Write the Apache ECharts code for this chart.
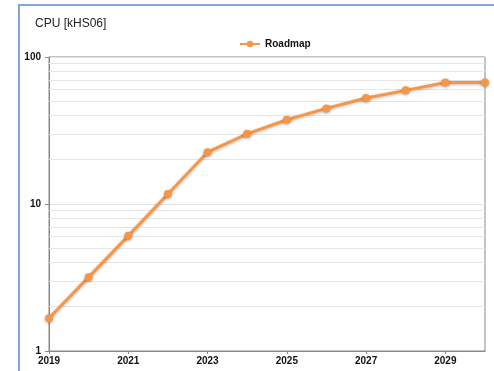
<!DOCTYPE html>
<html>
<head>
<meta charset="utf-8">
<script src="https://cdn.jsdelivr.net/npm/echarts@6/dist/echarts.min.js"></script>
<style>
  html, body { margin: 0; padding: 0; background: #fff; overflow: hidden; }
  #chart { position: absolute; left: 0; top: 0; width: 494px; height: 371px; }
</style>
</head>
<body>
<div id="chart"></div>
<script>
// Yearly CPU capacity roadmap (kHS06), log scale
const years = ['2019','2020','2021','2022','2023','2024','2025','2026','2027','2028','2029','2030'];
const roadmap = [1.67, 3.18, 6.07, 11.7, 22.5, 30.0, 37.4, 44.7, 52.6, 59.3, 67.1, 67.1];
// Minor log grid values between the decades
const minorGrid = [2,3,4,5,6,7,8,9,20,30,40,50,60,70,80,90];

const font = '"Liberation Sans", Arial, sans-serif';
const orange = '#f79646';
const frameBlue = '#7fa7dc';

const chart = echarts.init(document.getElementById('chart'));
chart.setOption({
  animation: false,
  graphic: [
    { type: 'line', shape: { x1: 19, y1: 5, x2: 494, y2: 5 }, style: { stroke: frameBlue, lineWidth: 2 } },
    { type: 'line', shape: { x1: 19, y1: 4, x2: 19, y2: 371 }, style: { stroke: frameBlue, lineWidth: 2 } }
  ],
  title: {
    text: 'CPU [kHS06]', left: 30, top: 13,
    textStyle: { fontFamily: font, fontSize: 12, fontWeight: 'normal', color: '#222' }
  },
  legend: {
    top: 34, left: 234,
    itemWidth: 20, itemHeight: 8,
    textStyle: { fontFamily: font, fontSize: 10, fontWeight: 'bold', color: '#111' },
    data: ['Roadmap']
  },
  grid: { left: 49, right: 9, top: 57, bottom: 20, show: true, borderColor: '#888', borderWidth: 1 },
  xAxis: {
    type: 'category', data: years, boundaryGap: false,
    axisLine: { lineStyle: { color: '#888' } },
    axisTick: { interval: 1, length: 3, lineStyle: { color: '#888' } },
    axisLabel: { interval: 1, margin: 5, fontFamily: font, fontSize: 10, fontWeight: 'bold', color: '#111' },
    splitLine: { show: false }
  },
  yAxis: {
    type: 'log', logBase: 10, min: 1, max: 100,
    axisLine: { show: true, lineStyle: { color: '#888' } },
    axisTick: { show: true, length: 4, lineStyle: { color: '#888' } },
    axisLabel: { margin: 8, fontFamily: font, fontSize: 10, fontWeight: 'bold', color: '#111' },
    splitLine: { show: true, lineStyle: { color: '#e2e2e2' } }
  },
  series: [{
    name: 'Roadmap', type: 'line', data: roadmap,
    symbol: 'circle', symbolSize: 8,
    lineStyle: { color: orange, width: 3, shadowColor: 'rgba(0,0,0,0.25)', shadowBlur: 3, shadowOffsetY: 1 },
    itemStyle: { color: orange, shadowColor: 'rgba(0,0,0,0.3)', shadowBlur: 3, shadowOffsetY: 1 },
    z: 5,
    markLine: {
      silent: true, symbol: 'none', label: { show: false },
      lineStyle: { color: '#e6e6e6', type: 'solid', width: 1 },
      data: minorGrid.map(v => ({ yAxis: v }))
    }
  }]
});
</script>
</body>
</html>
